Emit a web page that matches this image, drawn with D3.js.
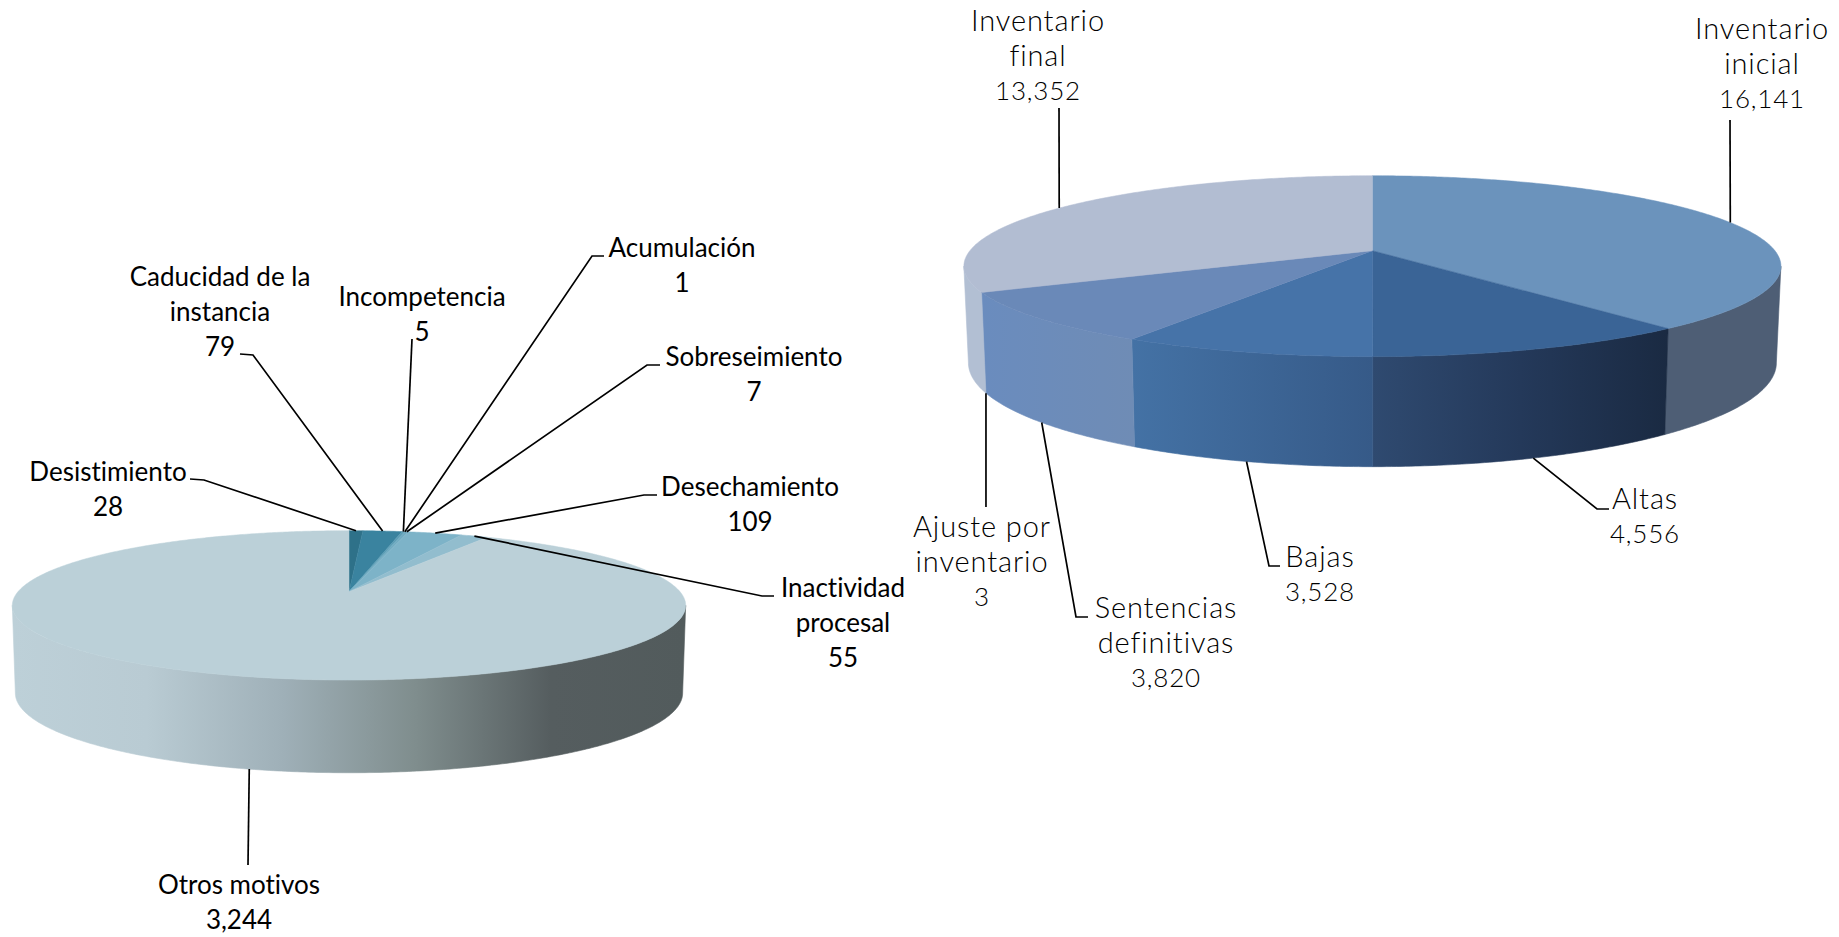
<!DOCTYPE html>
<html>
<head>
<meta charset="utf-8">
<script src="https://cdn.jsdelivr.net/npm/d3@7"></script>
<style>
    body { margin: 0; background: #fff; }
    svg { display: block; }
    .leader { fill: none; stroke: #000; stroke-width: 1.7; }
    text { font-variant-ligatures: none; }
    .left-label { font-family: Lato, sans-serif; font-size: 26px; fill: #000; }
    .right-label { font-family: Lato, sans-serif; font-weight: 300; font-size: 29px; fill: #000; letter-spacing: 0.9px; }
    .right-label .value { font-size: 26px; letter-spacing: 0.8px; }
</style>
</head>
<body>
<svg id="chart" width="1839" height="937"></svg>
<script>
// left pie
const leftCategories = [
    ['Desistimiento'],
    ['Caducidad de la', 'instancia'],
    ['Incompetencia'],
    ['Acumulación'],
    ['Sobreseimiento'],
    ['Desechamiento'],
    ['Inactividad', 'procesal'],
    ['Otros motivos']
];
const leftValues = [28, 79, 5, 1, 7, 109, 55, 3244];

// right pie
const rightCategories = [
    ['Inventario', 'inicial'],
    ['Altas'],
    ['Bajas'],
    ['Sentencias', 'definitivas'],
    ['Ajuste por', 'inventario'],
    ['Inventario', 'final']
];
const rightValues = [16141, 4556, 3528, 3820, 3, 13352];

// layout only from here on: top and bottom rim of each disc, colours, label spots
const leftDisc = {
    x: 349, k: 0.183,
    top: { y: 591.7, a: 72.2, r: 331 },
    bottom: { y: 678.5, a: 77, r: 328 }
};
const rightDisc = {
    x: 1372.4, k: 0.171,
    top: { y: 250.7, a: 87.8, r: 402.5 },
    bottom: { y: 345.2, a: 100.7, r: 398 }
};

const leftTops = ['#2e7189', '#3a839f', '#5b9db5', '#6aa6bc', '#70abc1', '#7db3c8', '#92bdce', '#bbd0d8'];
const rightTops = ['#6b93bc', '#3a6496', '#4673a8', '#6a89b8', '#6a89b8', '#b2bdd2'];

const leftWalls = [
    ['#2e7189'], ['#3a839f'], ['#5b9db5'], ['#6aa6bc'], ['#70abc1'], ['#7db3c8'], ['#92bdce'],
    ['#bdd0d8', '#b9cbd3', '#9fb0b8', '#7f8d8d', '#555d5f', '#525b5c']
];
const rightWalls = [
    ['#4e5e75'],
    ['#2f4a70', '#24395a', '#1a2a42'],
    ['#4472a5', '#365a88'],
    ['#6a8cbe', '#6f8cb5'],
    ['#6a8cbe'],
    ['#b2bfd3']
];

// bend of each leader, then the centre of the label (x, y of the first line)
const leftSpots = [
    { rim: 'top', bend: [[204, 480], [190, 479]], label: [108, 472] },
    { rim: 'top', bend: [[253, 355], [240, 354]], label: [220, 277] },
    { rim: 'top', bend: [[412, 339]], label: [422, 297] },
    { rim: 'top', bend: [[592, 256], [604, 256]], label: [682, 248] },
    { rim: 'top', bend: [[647, 365], [660, 365]], label: [754, 357] },
    { rim: 'top', bend: [[644, 495], [657, 495]], label: [750, 487] },
    { rim: 'top', bend: [[762, 596], [774, 596]], label: [843, 588] },
    { rim: 'bottom', bend: [[248, 865]], label: [239, 885] }
];
const rightSpots = [
    { rim: 'top', bend: [[1730, 120]], label: [1762, 29] },
    { rim: 'bottom', bend: [[1597, 509], [1609, 509]], label: [1645, 499] },
    { rim: 'bottom', bend: [[1269, 566], [1280, 566]], label: [1320, 557] },
    { rim: 'bottom', bend: [[1076, 617], [1088, 617]], label: [1166, 608] },
    { rim: 'bottom', bend: [[986, 507]], label: [982, 527] },
    { rim: 'top', bend: [[1059, 108]], label: [1038, 21] }
];

const svg = d3.select('#chart');
const defs = svg.append('defs');
const pie = d3.pie().sort(null);
const path = d3.line();
const commas = d3.format(',');
let gradients = 0;

// a point on the disc at angle a (0 = back, clockwise), seen in perspective
function project(disc, rim, a, t) {
    let u = Math.sin(a) * t;
    let v = Math.cos(a) * t;
    let w = 1 + disc.k * v;
    return [disc.x + rim.r * u / w, rim.y - rim.a * v / w];
}

function arcAngles(start, end) {
    let n = Math.max(2, Math.ceil((end - start) / 0.01));
    return d3.range(n + 1).map(i => start + (end - start) * i / n);
}

function wallFill(stops, x0, x1) {
    if (stops.length == 1) {
        return stops[0];
    }
    let id = `wall${gradients++}`;
    let gradient = defs.append('linearGradient')
        .attr('id', id)
        .attr('gradientUnits', 'userSpaceOnUse')
        .attr('x1', x0).attr('x2', x1).attr('y1', 0).attr('y2', 0);
    stops.forEach((colour, i) => {
        gradient.append('stop')
            .attr('offset', i / (stops.length - 1))
            .attr('stop-color', colour);
    });
    return `url(#${id})`;
}

function drawPie(disc, categories, values, tops, walls, spots, labelClass) {
    let slices = pie(values);
    let g = svg.append('g');

    // only the front of the rim shows, between the two silhouette angles
    let frontStart = Math.acos(-disc.k);
    let frontEnd = 2 * Math.PI - frontStart;

    slices.forEach((d, i) => {
        let start = Math.max(d.startAngle, frontStart);
        let end = Math.min(d.endAngle, frontEnd);
        if (end <= start) {
            return;
        }
        let angles = arcAngles(start, end);
        let upper = angles.map(a => project(disc, disc.top, a, 1));
        let lower = angles.map(a => project(disc, disc.bottom, a, 1)).reverse();
        let xs = upper.concat(lower).map(p => p[0]);
        let fill = wallFill(walls[i], d3.min(xs), d3.max(xs));
        g.append('path')
            .attr('d', path(upper.concat(lower)) + 'Z')
            .attr('fill', fill)
            .attr('stroke', fill)
            .attr('stroke-width', 0.6);
    });

    slices.forEach((d, i) => {
        let points = [project(disc, disc.top, 0, 0)]
            .concat(arcAngles(d.startAngle, d.endAngle).map(a => project(disc, disc.top, a, 1)));
        g.append('path')
            .attr('d', path(points) + 'Z')
            .attr('fill', tops[i])
            .attr('stroke', tops[i])
            .attr('stroke-width', 0.5);
    });

    // leaders start at the middle of each slice's rim
    slices.forEach((d, i) => {
        let mid = (d.startAngle + d.endAngle) / 2;
        let rim = spots[i].rim == 'top' ? disc.top : disc.bottom;
        let start = project(disc, rim, mid, 1);
        g.append('path')
            .attr('class', 'leader')
            .attr('d', path([start].concat(spots[i].bend)));

        let lines = categories[i].concat(commas(values[i]));
        let text = g.append('text')
            .attr('class', labelClass)
            .attr('text-anchor', 'middle');
        lines.forEach((line, j) => {
            text.append('tspan')
                .attr('class', j == lines.length - 1 ? 'value' : 'name')
                .attr('x', spots[i].label[0])
                .attr('y', spots[i].label[1] + j * 34.7)
                .attr('dy', '0.35em')
                .text(line);
        });
    });
}

drawPie(leftDisc, leftCategories, leftValues, leftTops, leftWalls, leftSpots, 'left-label');
drawPie(rightDisc, rightCategories, rightValues, rightTops, rightWalls, rightSpots, 'right-label');
</script>
</body>
</html>
